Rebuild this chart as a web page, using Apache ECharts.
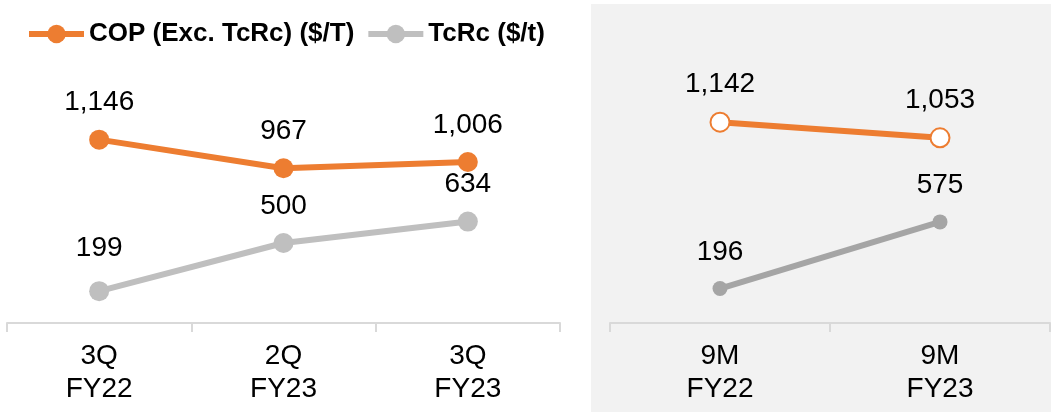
<!DOCTYPE html>
<html>
<head>
<meta charset="utf-8">
<style>
  html, body { margin: 0; padding: 0; background: #fff; }
  #main { width: 1051px; height: 412px; }
</style>
<script src="https://cdn.jsdelivr.net/npm/echarts@6/dist/echarts.min.js"></script>
</head>
<body>
<div id="main"></div>
<script>
// quarterly panel (left)
const quarters = ['3Q\nFY22', '2Q\nFY23', '3Q\nFY23']
const copQuarter = [1146, 967, 1006]
const tcrcQuarter = [199, 500, 634]

// nine-month panel (right)
const periods = ['9M\nFY22', '9M\nFY23']
const copNineMonth = [1142, 1053]
const tcrcNineMonth = [196, 575]

const COP_NAME = 'COP (Exc. TcRc) ($/T)'
const TCRC_NAME = 'TcRc ($/t)'

const orange = '#ED7D31'
const font = 'Liberation Sans, Arial, sans-serif'

const fmt = p => Number(p.value).toLocaleString('en-US')
const valueLabel = (distance) => ({
  show: true,
  position: 'top',
  distance: distance,
  color: '#000',
  fontSize: 28,
  fontFamily: font,
  formatter: fmt
})

const catAxis = (data, gridIndex) => ({
  type: 'category',
  gridIndex: gridIndex,
  data: data,
  boundaryGap: true,
  axisLine: { show: true, lineStyle: { color: '#D9D9D9', width: 2 } },
  axisTick: {
    show: true,
    alignWithLabel: false,
    interval: 0,
    length: 9,
    lineStyle: { color: '#D9D9D9', width: 2 }
  },
  axisLabel: {
    margin: 17,
    color: '#000',
    fontSize: 28,
    lineHeight: 33,
    fontFamily: font
  }
})

const valAxis = (gridIndex) => ({
  type: 'value',
  gridIndex: gridIndex,
  min: 0,
  max: 1200,
  show: false,
  splitLine: { show: false }
})

const chart = echarts.init(document.getElementById('main'))

chart.setOption({
  animation: false,
  textStyle: { fontFamily: font },
  graphic: [{
    type: 'rect',
    z: -10,
    shape: { x: 591, y: 4, width: 460, height: 408 },
    style: { fill: '#F2F2F2' }
  }],
  legend: {
    data: [COP_NAME, TCRC_NAME],
    left: 26,
    top: 21,
    padding: 0,
    itemWidth: 55,
    itemHeight: 23,
    itemGap: 11,
    lineStyle: { width: 6 },
    textStyle: {
      color: '#000',
      fontSize: 26,
      fontWeight: 'bold',
      fontFamily: font
    }
  },
  grid: [
    { left: 7, width: 553, top: 131, bottom: 89 },
    { left: 610, width: 440, top: 112, bottom: 89 }
  ],
  xAxis: [catAxis(quarters, 0), catAxis(periods, 1)],
  yAxis: [valAxis(0), valAxis(1)],
  series: [
    {
      name: COP_NAME,
      type: 'line',
      xAxisIndex: 0,
      yAxisIndex: 0,
      data: copQuarter,
      symbol: 'circle',
      symbolSize: 20,
      color: orange,
      lineStyle: { color: orange, width: 6 },
      itemStyle: { color: orange },
      label: valueLabel(13)
    },
    {
      name: TCRC_NAME,
      type: 'line',
      xAxisIndex: 0,
      yAxisIndex: 0,
      data: tcrcQuarter.map((v, i) => i === 0 ? { value: v, label: { distance: 19 } } : v),
      symbol: 'circle',
      symbolSize: 20,
      color: '#BFBFBF',
      lineStyle: { color: '#BFBFBF', width: 6 },
      itemStyle: { color: '#BFBFBF' },
      label: valueLabel(13)
    },
    {
      name: COP_NAME,
      type: 'line',
      xAxisIndex: 1,
      yAxisIndex: 1,
      data: copNineMonth,
      symbol: 'circle',
      symbolSize: 19,
      lineStyle: { color: orange, width: 6 },
      itemStyle: { color: '#fff', borderColor: orange, borderWidth: 2 },
      label: valueLabel(13)
    },
    {
      name: TCRC_NAME,
      type: 'line',
      xAxisIndex: 1,
      yAxisIndex: 1,
      data: tcrcNineMonth,
      symbol: 'circle',
      symbolSize: 15,
      lineStyle: { color: '#A5A5A5', width: 6 },
      itemStyle: { color: '#A5A5A5' },
      label: valueLabel(15)
    }
  ]
})
</script>
</body>
</html>
